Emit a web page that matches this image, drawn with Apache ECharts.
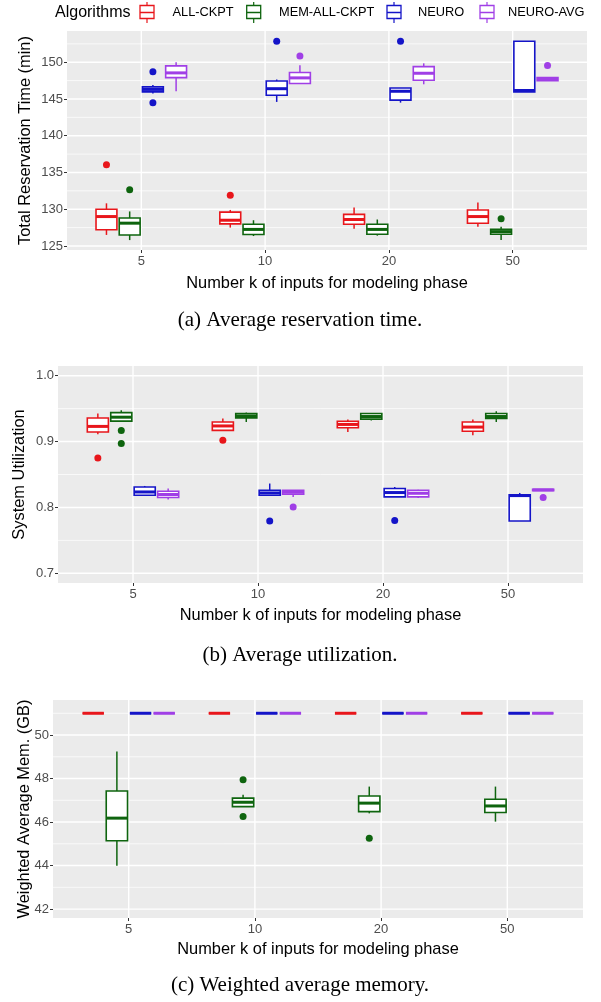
<!DOCTYPE html>
<html><head><meta charset="utf-8">
<script src="https://cdn.jsdelivr.net/npm/echarts@6/dist/echarts.min.js"></script>
<style>html,body{margin:0;padding:0;background:#fff}#c{width:601px;height:1002px}</style>
</head><body><div id="c"></div>
<script>
// ---------- data ----------
const categories = ['5', '10', '20', '50'];
const algorithms = ['ALL-CKPT', 'MEM-ALL-CKPT', 'NEURO', 'NEURO-AVG'];
const colors = ['#E8161B', '#0E640E', '#1414C8', '#A03FE6'];

// box stats per category: [lower whisker, Q1, median, Q3, upper whisker]
const resAllCkpt    = [[126.5,127.2,129.0,130.0,130.8],[127.5,128.0,128.5,129.6,129.9],[127.35,127.95,128.6,129.3,130.25],[127.6,128.1,129.0,129.9,130.9]];
const resMemAllCkpt = [[125.8,126.5,128.1,128.8,129.7],[126.35,126.55,127.25,127.95,128.5],[126.4,126.6,127.25,127.95,128.6],[125.8,126.6,126.95,127.25,127.6]];
const resNeuro      = [[145.75,145.97,146.3,146.65,146.9],[144.6,145.5,146.4,147.45,147.65],[144.5,144.85,146.05,146.5,146.5],[145.95,145.95,146.15,152.85,152.85]];
const resNeuroAvg   = [[146.05,147.9,148.55,149.5,150.0],[147.1,147.1,147.87,148.6,149.6],[147.0,147.55,148.5,149.4,149.85],[147.5,147.5,147.7,147.9,147.9]];
// outliers: [category index, value]
const resOutAllCkpt    = [[0,136.05],[1,131.9]];
const resOutMemAllCkpt = [[0,132.65],[3,128.7]];
const resOutNeuro      = [[0,148.7],[0,144.5],[1,152.85],[2,152.85]];
const resOutNeuroAvg   = [[1,150.85],[3,149.55]];

const utilAllCkpt    = [[0.911,0.9146,0.923,0.9358,0.9425],[0.917,0.917,0.9237,0.9297,0.935],[0.9146,0.921,0.926,0.9308,0.9334],[0.9096,0.9156,0.922,0.9297,0.9334]];
const utilMemAllCkpt = [[0.931,0.931,0.937,0.944,0.9475],[0.9297,0.936,0.939,0.9425,0.944],[0.932,0.934,0.938,0.9425,0.9425],[0.9297,0.935,0.938,0.9425,0.946]];
const utilNeuro      = [[0.8185,0.8185,0.8235,0.831,0.8326],[0.8185,0.8185,0.822,0.826,0.8363],[0.816,0.816,0.8226,0.8287,0.831],[0.7795,0.7795,0.818,0.819,0.822]];
const utilNeuroAvg   = [[0.812,0.815,0.8196,0.8246,0.8287],[0.816,0.820,0.823,0.826,0.826],[0.8145,0.816,0.8215,0.826,0.827],[0.8255,0.8255,0.8266,0.8275,0.8275]];
const utilOutAllCkpt    = [[0,0.875],[1,0.902]];
const utilOutMemAllCkpt = [[0,0.9167],[0,0.897]];
const utilOutNeuro      = [[1,0.7795],[2,0.78]];
const utilOutNeuroAvg   = [[1,0.8008],[3,0.815]];

const memAllCkpt    = [[51,51,51,51,51],[51,51,51,51,51],[51,51,51,51,51],[51,51,51,51,51]];
const memMemAllCkpt = [[43.99,45.14,46.18,47.43,49.24],[46.71,46.71,46.91,47.1,47.25],[46.4,46.48,46.87,47.2,47.63],[46.02,46.44,46.74,47.05,47.63]];
const memNeuro      = [[51,51,51,51,51],[51,51,51,51,51],[51,51,51,51,51],[51,51,51,51,51]];
const memNeuroAvg   = [[51,51,51,51,51],[51,51,51,51,51],[51,51,51,51,51],[51,51,51,51,51]];
const memOutAllCkpt    = [];
const memOutMemAllCkpt = [[1,47.94],[1,46.25],[2,45.26]];
const memOutNeuro      = [];
const memOutNeuroAvg   = [];

// tick labels
const resTicks = [125, 130, 135, 140, 145, 150];
const resMinor = [127.5, 132.5, 137.5, 142.5, 147.5, 152.5];
const utilTicks = [0.7, 0.8, 0.9, 1.0];
const utilMinor = [0.75, 0.85, 0.95];
const memTicks = [42, 44, 46, 48, 50];
const memMinor = [43, 45, 47, 49, 51];

const xTitle = 'Number k of inputs for modeling phase';
const legendTitle = 'Algorithms';

// ---------- layout ----------
const panels = [
  { grid: {left: 67, top: 31, width: 520, height: 219}, ymin: 124.45, ymax: 154.25,
    ticks: resTicks, minor: resMinor, fmt: v => String(v),
    boxes: [resAllCkpt, resMemAllCkpt, resNeuro, resNeuroAvg],
    outs: [resOutAllCkpt, resOutMemAllCkpt, resOutNeuro, resOutNeuroAvg],
    yTitle: 'Total Reservation Time (min)', yTitleX: 25.5, xTitleY: 283,
    caption: '(a) Average reservation time.', capY: 320 },
  { grid: {left: 58, top: 366, width: 525, height: 217}, ymin: 0.6853, ymax: 1.0147,
    ticks: utilTicks, minor: utilMinor, fmt: v => v.toFixed(1),
    boxes: [utilAllCkpt, utilMemAllCkpt, utilNeuro, utilNeuroAvg],
    outs: [utilOutAllCkpt, utilOutMemAllCkpt, utilOutNeuro, utilOutNeuroAvg],
    yTitle: 'System Utilization', yTitleX: 19, xTitleY: 615,
    caption: '(b) Average utilization.', capY: 655 },
  { grid: {left: 53, top: 700, width: 530, height: 218}, ymin: 41.59, ymax: 51.61,
    ticks: memTicks, minor: memMinor, fmt: v => String(v),
    boxes: [memAllCkpt, memMemAllCkpt, memNeuro, memNeuroAvg],
    outs: [memOutAllCkpt, memOutMemAllCkpt, memOutNeuro, memOutNeuroAvg],
    yTitle: 'Weighted Average Mem. (GB)', yTitleX: 24, xTitleY: 949,
    caption: '(c) Weighted average memory.', capY: 985 }
];

const dodge = 0.75 / 4;
const boxW = dodge * 0.9;
const catPos = categories.map((c, i) => i + 1);
const SANS = '"Liberation Sans", Arial, sans-serif';
const SERIF = '"Liberation Serif", "DejaVu Serif", serif';

const grids = [], xAxes = [], yAxes = [], series = [], graphics = [];

panels.forEach((p, pi) => {
  grids.push(Object.assign({show: true, backgroundColor: '#EBEBEB', borderWidth: 0}, p.grid));
  xAxes.push({
    gridIndex: pi, type: 'value', min: 0.4, max: 4.6,
    axisLine: {show: false}, splitLine: {show: false},
    axisTick: {show: true, length: 3, lineStyle: {color: '#333', width: 1}, customValues: catPos},
    axisLabel: {customValues: catPos, formatter: v => categories[Math.round(v) - 1],
      color: '#4D4D4D', fontSize: 13, margin: 5, fontFamily: SANS}
  });
  yAxes.push({
    gridIndex: pi, type: 'value', min: p.ymin, max: p.ymax,
    axisLine: {show: false}, splitLine: {show: false},
    axisTick: {show: true, length: 3, lineStyle: {color: '#333', width: 1}, customValues: p.ticks},
    axisLabel: {customValues: p.ticks, formatter: p.fmt, color: '#4D4D4D', fontSize: 13, margin: 4, fontFamily: SANS}
  });
  // gridlines
  const hLine = (width) => function (params, api) {
    const cs = params.coordSys;
    const y = api.coord([1, api.value(0)])[1];
    return {type: 'line', shape: {x1: cs.x, y1: y, x2: cs.x + cs.width, y2: y},
      style: {stroke: '#FFFFFF', lineWidth: width}};
  };
  series.push({type: 'custom', xAxisIndex: pi, yAxisIndex: pi, z: 1, silent: true,
    renderItem: hLine(0.7), data: p.minor.map(v => [v]), encode: {x: [], y: 0}});
  series.push({type: 'custom', xAxisIndex: pi, yAxisIndex: pi, z: 1, silent: true,
    renderItem: hLine(1.4), data: p.ticks.map(v => [v]), encode: {x: [], y: 0}});
  series.push({type: 'custom', xAxisIndex: pi, yAxisIndex: pi, z: 1, silent: true,
    renderItem: function (params, api) {
      const cs = params.coordSys;
      const x = api.coord([api.value(0), p.ymin])[0];
      return {type: 'line', shape: {x1: x, y1: cs.y, x2: x, y2: cs.y + cs.height},
        style: {stroke: '#FFFFFF', lineWidth: 1.4}};
    }, data: catPos.map(v => [v]), encode: {x: 0, y: []}});

  // boxes
  algorithms.forEach((alg, ai) => {
    const off = (ai - 1.5) * dodge;
    const col = colors[ai];
    series.push({
      type: 'custom', name: alg, xAxisIndex: pi, yAxisIndex: pi, z: 3, silent: true,
      encode: {x: 0, y: [1, 2, 3, 4, 5]},
      data: p.boxes[ai].map((s, ci) => [catPos[ci] + off].concat(s)),
      renderItem: function (params, api) {
        const x = api.value(0);
        const lo = api.coord([x, api.value(1)]);
        const q1 = api.coord([x, api.value(2)]);
        const md = api.coord([x, api.value(3)]);
        const q3 = api.coord([x, api.value(4)]);
        const hi = api.coord([x, api.value(5)]);
        const half = api.size([boxW, 0])[0] / 2;
        const cx = q1[0];
        const st = {stroke: col, lineWidth: 1.5, fill: null};
        return {type: 'group', children: [
          {type: 'line', shape: {x1: cx, y1: hi[1], x2: cx, y2: q3[1]}, style: st},
          {type: 'line', shape: {x1: cx, y1: q1[1], x2: cx, y2: lo[1]}, style: st},
          {type: 'rect', shape: {x: cx - half, y: q3[1], width: 2 * half, height: q1[1] - q3[1]},
            style: {stroke: col, lineWidth: 1.6, fill: '#FFFFFF'}},
          {type: 'line', shape: {x1: cx - half, y1: md[1], x2: cx + half, y2: md[1]},
            style: {stroke: col, lineWidth: 3}}
        ]};
      }
    });
    series.push({
      type: 'scatter', xAxisIndex: pi, yAxisIndex: pi, z: 4, silent: true,
      symbol: 'circle', symbolSize: 7, itemStyle: {color: col, opacity: 1},
      data: p.outs[ai].map(o => [catPos[o[0]] + off, o[1]])
    });
  });

  // titles
  const g = p.grid;
  graphics.push({type: 'text', x: p.yTitleX, y: g.top + g.height / 2, rotation: Math.PI / 2,
    style: {text: p.yTitle, font: '16.4px ' + SANS, fill: '#000', align: 'center', verticalAlign: 'middle'}});
  graphics.push({type: 'text', x: g.left + g.width / 2, y: p.xTitleY,
    style: {text: xTitle, font: '16.4px ' + SANS, fill: '#000', align: 'center', verticalAlign: 'middle'}});
  graphics.push({type: 'text', x: 300, y: p.capY,
    style: {text: p.caption, font: '21px ' + SERIF, fill: '#000', align: 'center', verticalAlign: 'middle'}});
});

// legend
const legY = 12.5;
graphics.push({type: 'text', x: 55, y: legY,
  style: {text: legendTitle, font: '16px ' + SANS, fill: '#000', align: 'left', verticalAlign: 'middle'}});
const glyphX = [140, 246.7, 387, 480];
const labelX = [172.5, 279, 418, 508];
algorithms.forEach((alg, ai) => {
  const col = colors[ai], gx = glyphX[ai], w = 14, cx = gx + w / 2;
  graphics.push({type: 'group', children: [
    {type: 'line', shape: {x1: cx, y1: 2, x2: cx, y2: 23}, style: {stroke: col, lineWidth: 1.2}},
    {type: 'rect', shape: {x: gx, y: 5.5, width: w, height: 13}, style: {stroke: col, lineWidth: 1.3, fill: '#FFFFFF'}},
    {type: 'line', shape: {x1: gx, y1: legY, x2: gx + w, y2: legY}, style: {stroke: col, lineWidth: 1.5}}
  ]});
  graphics.push({type: 'text', x: labelX[ai], y: legY,
    style: {text: alg, font: '12.8px ' + SANS, fill: '#000', align: 'left', verticalAlign: 'middle'}});
});

const chart = echarts.init(document.getElementById('c'), null, {renderer: 'canvas'});
chart.setOption({
  backgroundColor: '#FFFFFF',
  animation: false,
  grid: grids, xAxis: xAxes, yAxis: yAxes, series: series,
  graphic: graphics
});
</script>
</body></html>
